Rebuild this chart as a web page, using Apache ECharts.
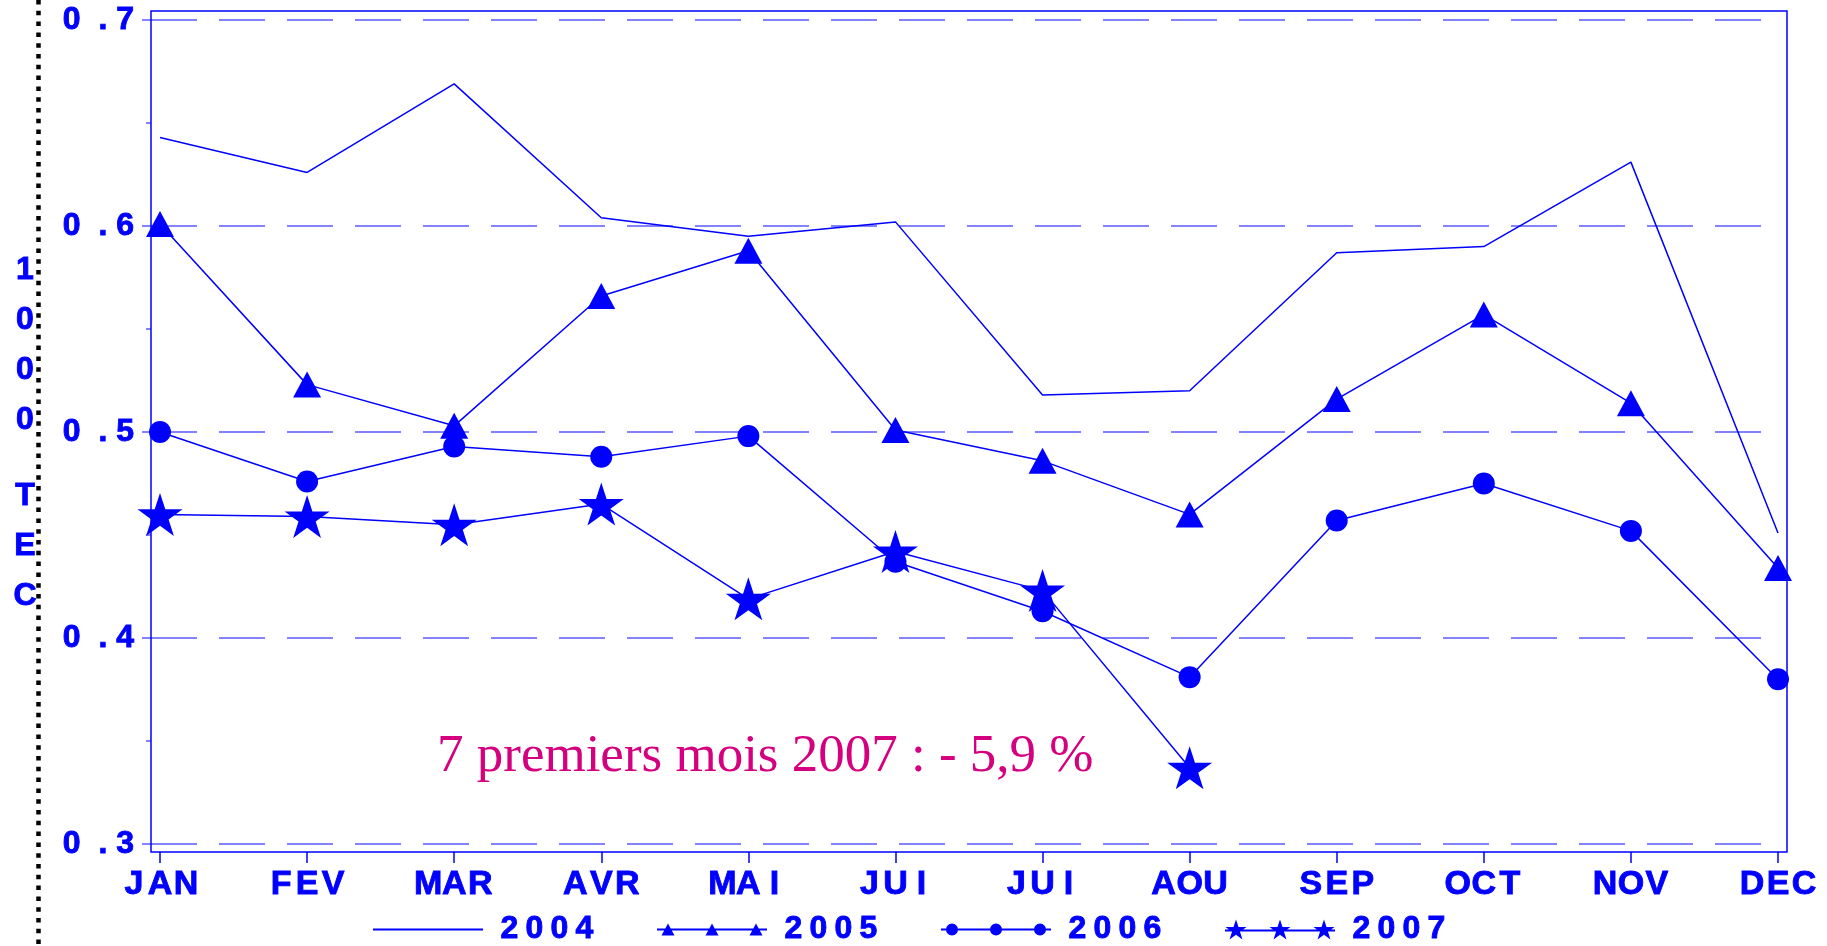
<!DOCTYPE html>
<html>
<head>
<meta charset="utf-8">
<script src="https://cdn.jsdelivr.net/npm/echarts@6/dist/echarts.min.js"></script>
<style>
html,body{margin:0;padding:0;background:#fff;}
#chart{width:1827px;height:946px;}
</style>
</head>
<body>
<div id="chart"></div>
<script>
// ---- data ----
const categories = ['JAN','FEV','MAR','AVR','MAI','JUI','JUI','AOU','SEP','OCT','NOV','DEC'];
const s2004 = [0.643,0.626,0.669,0.604,0.595,0.602,0.518,0.520,0.587,0.590,0.631,0.451];
const s2005 = [0.601,0.523,0.503,0.566,0.588,0.501,0.486,0.460,0.516,0.557,0.514,0.434];
const s2006 = [0.500,0.476,0.493,0.488,0.498,0.437,0.413,0.381,0.457,0.475,0.452,0.380];
const s2007 = [0.460,0.459,0.455,0.465,0.419,0.442,0.423,0.337];
const seriesNames = ['2004','2005','2006','2007'];
const yTickLabels = ['0  . 3','0  . 4','0  . 5','0  . 6','0  . 7'];
const yTitleTop = '1\n0\n0\n0';
const yTitleBottom = 'T\nE\nC';
const note = '7 premiers mois 2007 : - 5,9 %';

// ---- style ----
const BLUE = '#0000ff';
const GRIDC = '#5b5bff';
const FONT = '"Liberation Sans", Arial, Helvetica, sans-serif';
const BOLDEN = {textBorderColor: BLUE, textBorderWidth: 0.9};

function starPts(cx, cy, R) {
  const r = R * 0.382;
  const pts = [];
  for (let i = 0; i < 10; i++) {
    const a = (-90 + i * 36) * Math.PI / 180;
    const rr = i % 2 === 0 ? R : r;
    pts.push((cx + rr * Math.cos(a)).toFixed(3) + ',' + (cy + rr * Math.sin(a)).toFixed(3));
  }
  return 'M' + pts.join('L') + 'Z';
}
const starSymbol = 'path://' + starPts(0, 0, 11);
const legendIcons = {
  '2004': {icon: 'path://M0,0H110V2H0Z', h: 2},
  '2005': {icon: 'path://M0,5H110V7H0Z M4.5,12L11,0L17.5,12Z M48.5,12L55,0L61.5,12Z M92.5,12L99,0L105.5,12Z', h: 12},
  '2006': {icon: 'path://M0,5H110V7H0Z M5,6A6,6 0 1 1 17,6A6,6 0 1 1 5,6Z M49,6A6,6 0 1 1 61,6A6,6 0 1 1 49,6Z M93,6A6,6 0 1 1 105,6A6,6 0 1 1 93,6Z', h: 12},
  '2007': {icon: 'path://M0,10H110V12H0Z ' + starPts(11, 11, 11) + ' ' + starPts(55, 11, 11) + ' ' + starPts(99, 11, 11), h: 19.9}
};
const legendLeft = [373, 657, 941, 1225];

function spaced(str, key) {
  return str.split('').map(c => '{' + key + '|' + c + '}').join('');
}

const legends = seriesNames.map((n, i) => ({
  data: [{name: n, icon: legendIcons[n].icon}],
  left: legendLeft[i],
  top: 913,
  padding: 0,
  itemWidth: 110,
  itemHeight: legendIcons[n].h,
  selectedMode: false,
  itemStyle: {borderWidth: 0, color: BLUE},
  formatter: name => '{s| }' + spaced(name, 'd'),
  textStyle: {
    rich: {
      s: {width: 9, fontSize: 32, lineHeight: 32},
      d: Object.assign({width: 25, align: 'center', fontSize: 32, lineHeight: 32, fontWeight: 'bold', color: BLUE, fontFamily: FONT}, BOLDEN)
    }
  }
}));

const chart = echarts.init(document.getElementById('chart'), null, {renderer: 'canvas'});

const lineCommon = {
  type: 'line',
  xAxisIndex: 0,
  yAxisIndex: 0,
  lineStyle: {color: BLUE, width: 1.5},
  itemStyle: {color: BLUE, borderWidth: 0},
  silent: true,
  animation: false,
  z: 5
};

const option = {
  animation: false,
  backgroundColor: '#ffffff',
  grid: [
    {left: 160, right: 49, top: 20, bottom: 102, outerBoundsMode: 'none'},
    {left: 151, right: 59, top: 20, bottom: 102, outerBoundsMode: 'none'},
    {left: 151, right: 40, top: 11, bottom: 94, show: true, borderColor: BLUE, borderWidth: 1.5, backgroundColor: 'transparent', outerBoundsMode: 'none', z: 3}
  ],
  xAxis: [
    {
      gridIndex: 0, type: 'category', data: categories, boundaryGap: false, offset: 8,
      axisLine: {show: false},
      axisTick: {show: true, length: 11, lineStyle: {color: BLUE, width: 1.5}},
      axisLabel: {
        margin: 16,
        formatter: v => spaced(v, 'c'),
        rich: {c: Object.assign({width: 26, align: 'center', fontSize: 34, lineHeight: 34, fontWeight: 'bold', color: BLUE, fontFamily: FONT}, BOLDEN)}
      },
      splitLine: {show: false}
    },
    {gridIndex: 1, type: 'value', show: false},
    {gridIndex: 2, type: 'value', show: false}
  ],
  yAxis: [
    {gridIndex: 0, type: 'value', min: 0.3, max: 0.7, show: false, splitLine: {show: false}},
    {
      gridIndex: 1, type: 'value', min: 0.3, max: 0.7, interval: 0.1,
      axisLine: {show: false},
      axisTick: {show: true, length: 9, lineStyle: {color: GRIDC, width: 1.5}},
      minorTick: {show: true, splitNumber: 2, length: 5, lineStyle: {color: GRIDC, width: 1.5}},
      minorSplitLine: {show: false},
      axisLabel: Object.assign({
        margin: 17,
        formatter: v => yTickLabels[Math.round((v - 0.3) * 10)],
        fontSize: 32, fontWeight: 'bold', color: BLUE, fontFamily: FONT
      }, BOLDEN),
      splitLine: {show: true, lineStyle: {color: GRIDC, width: 1.5, type: [46, 22]}}
    },
    {gridIndex: 2, type: 'value', show: false}
  ],
  legend: legends,
  series: [
    Object.assign({}, lineCommon, {name: '2004', data: s2004, symbol: 'none'}),
    Object.assign({}, lineCommon, {name: '2005', data: s2005, symbol: 'triangle', symbolSize: [28, 26]}),
    Object.assign({}, lineCommon, {name: '2006', data: s2006, symbol: 'circle', symbolSize: 22}),
    Object.assign({}, lineCommon, {name: '2007', data: s2007, symbol: starSymbol, symbolSize: [45, 43]})
  ],
  graphic: [
    {
      type: 'line', silent: true,
      shape: {x1: 38.5, y1: 0, x2: 38.5, y2: 946},
      style: {stroke: '#000000', lineWidth: 4.5, lineDash: [4.5, 6.3]}
    },
    {
      type: 'text', silent: true, x: 25, y: 245,
      style: {text: yTitleTop, fill: BLUE, font: 'bold 32px ' + FONT, textAlign: 'center', textVerticalAlign: 'top', lineHeight: 50, stroke: BLUE, lineWidth: 0.9}
    },
    {
      type: 'text', silent: true, x: 25, y: 471,
      style: {text: yTitleBottom, fill: BLUE, font: 'bold 32px ' + FONT, textAlign: 'center', textVerticalAlign: 'top', lineHeight: 50, stroke: BLUE, lineWidth: 0.9}
    },
    {
      type: 'text', silent: true, x: 437, y: 757,
      style: {text: note, fill: '#d5007f', font: '53px "Liberation Serif", "Times New Roman", serif', textAlign: 'left', textVerticalAlign: 'middle'}
    }
  ]
};
chart.setOption(option);
</script>
</body>
</html>
